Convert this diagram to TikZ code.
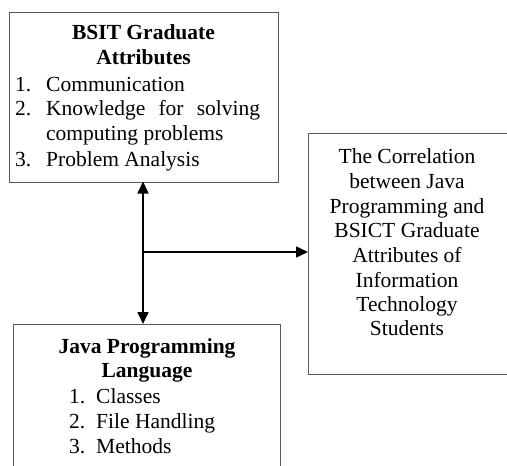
\documentclass[tikz,border=0pt]{standalone}
\usepackage{fontspec}
\setmainfont{Liberation Serif}
\usetikzlibrary{arrows.meta}
\begin{document}
\begin{tikzpicture}[x=1pt,y=-1pt,
  box/.style={draw=black!65, line width=1.2pt, rectangle, inner sep=0pt, anchor=north west},
  txt/.style={inner sep=0pt, anchor=base, font=\fontsize{21.5}{24.7}\selectfont},
  txtl/.style={inner sep=0pt, anchor=base west, font=\fontsize{21.5}{24.7}\selectfont},
  conn/.style={line width=1.7pt, black},
  tip/.style={Triangle[length=12pt,width=11pt]}]
\useasboundingbox (0,0) rectangle (507,466);
\clip (0,0) rectangle (507,466);
% boxes
\node[box, minimum width=269pt, minimum height=169.5pt] (attr) at (9,12) {};
\node[box, minimum width=210pt, minimum height=241pt] (corr) at (308,133) {};
\node[box, minimum width=267pt, minimum height=160pt] (java) at (13,324) {};
% box 1 text
\node[txt] (t1) at (143.5,39) {\bfseries BSIT Graduate};
\node[txt] (t2) at (143.5,64) {\bfseries Attributes};
\node[txtl] (n1) at (15,91) {1.};
\node[txtl] (l1) at (46,91) {Communication};
\node[txtl] (n2) at (15,115) {2.};
\node[txtl] (l2) at (46,115) {\makebox[214pt][s]{Knowledge for solving}};
\node[txtl] (l3) at (46,140) {computing problems};
\node[txtl] (n3) at (15,166) {3.};
\node[txtl] (l4) at (46,166) {Problem Analysis};
% right box text
\node[txt] (r1) at (407,163) {The Correlation};
\node[txt] (r2) at (407,188) {between Java};
\node[txt] (r3) at (407,213) {Programming and};
\node[txt] (r4) at (407,237) {BSICT Graduate};
\node[txt] (r5) at (407,262) {Attributes of};
\node[txt] (r6) at (407,287) {Information};
\node[txt] (r7) at (407,311) {Technology};
\node[txt] (r8) at (407,335) {Students};
% bottom box text
\node[txt] (j1) at (147,353) {\bfseries Java Programming};
\node[txt] (j2) at (147,377) {\bfseries Language};
\node[txtl] (m1) at (69,403) {1.};
\node[txtl] (k1) at (96,403) {Classes};
\node[txtl] (m2) at (69,428) {2.};
\node[txtl] (k2) at (96,428) {File Handling};
\node[txtl] (m3) at (69,453) {3.};
\node[txtl] (k3) at (96,453) {Methods};
% connectors
\coordinate (top) at (143,181.5);
\coordinate (bot) at (143,324);
\coordinate (mid) at (143,252);
\draw[conn, {Triangle[length=12pt,width=11pt]}-{Triangle[length=12pt,width=11pt]}] (top) -- (bot);
\draw[conn, -{Triangle[length=12pt,width=11pt]}] (mid) -- (corr.west |- mid);
\end{tikzpicture}
\end{document}
